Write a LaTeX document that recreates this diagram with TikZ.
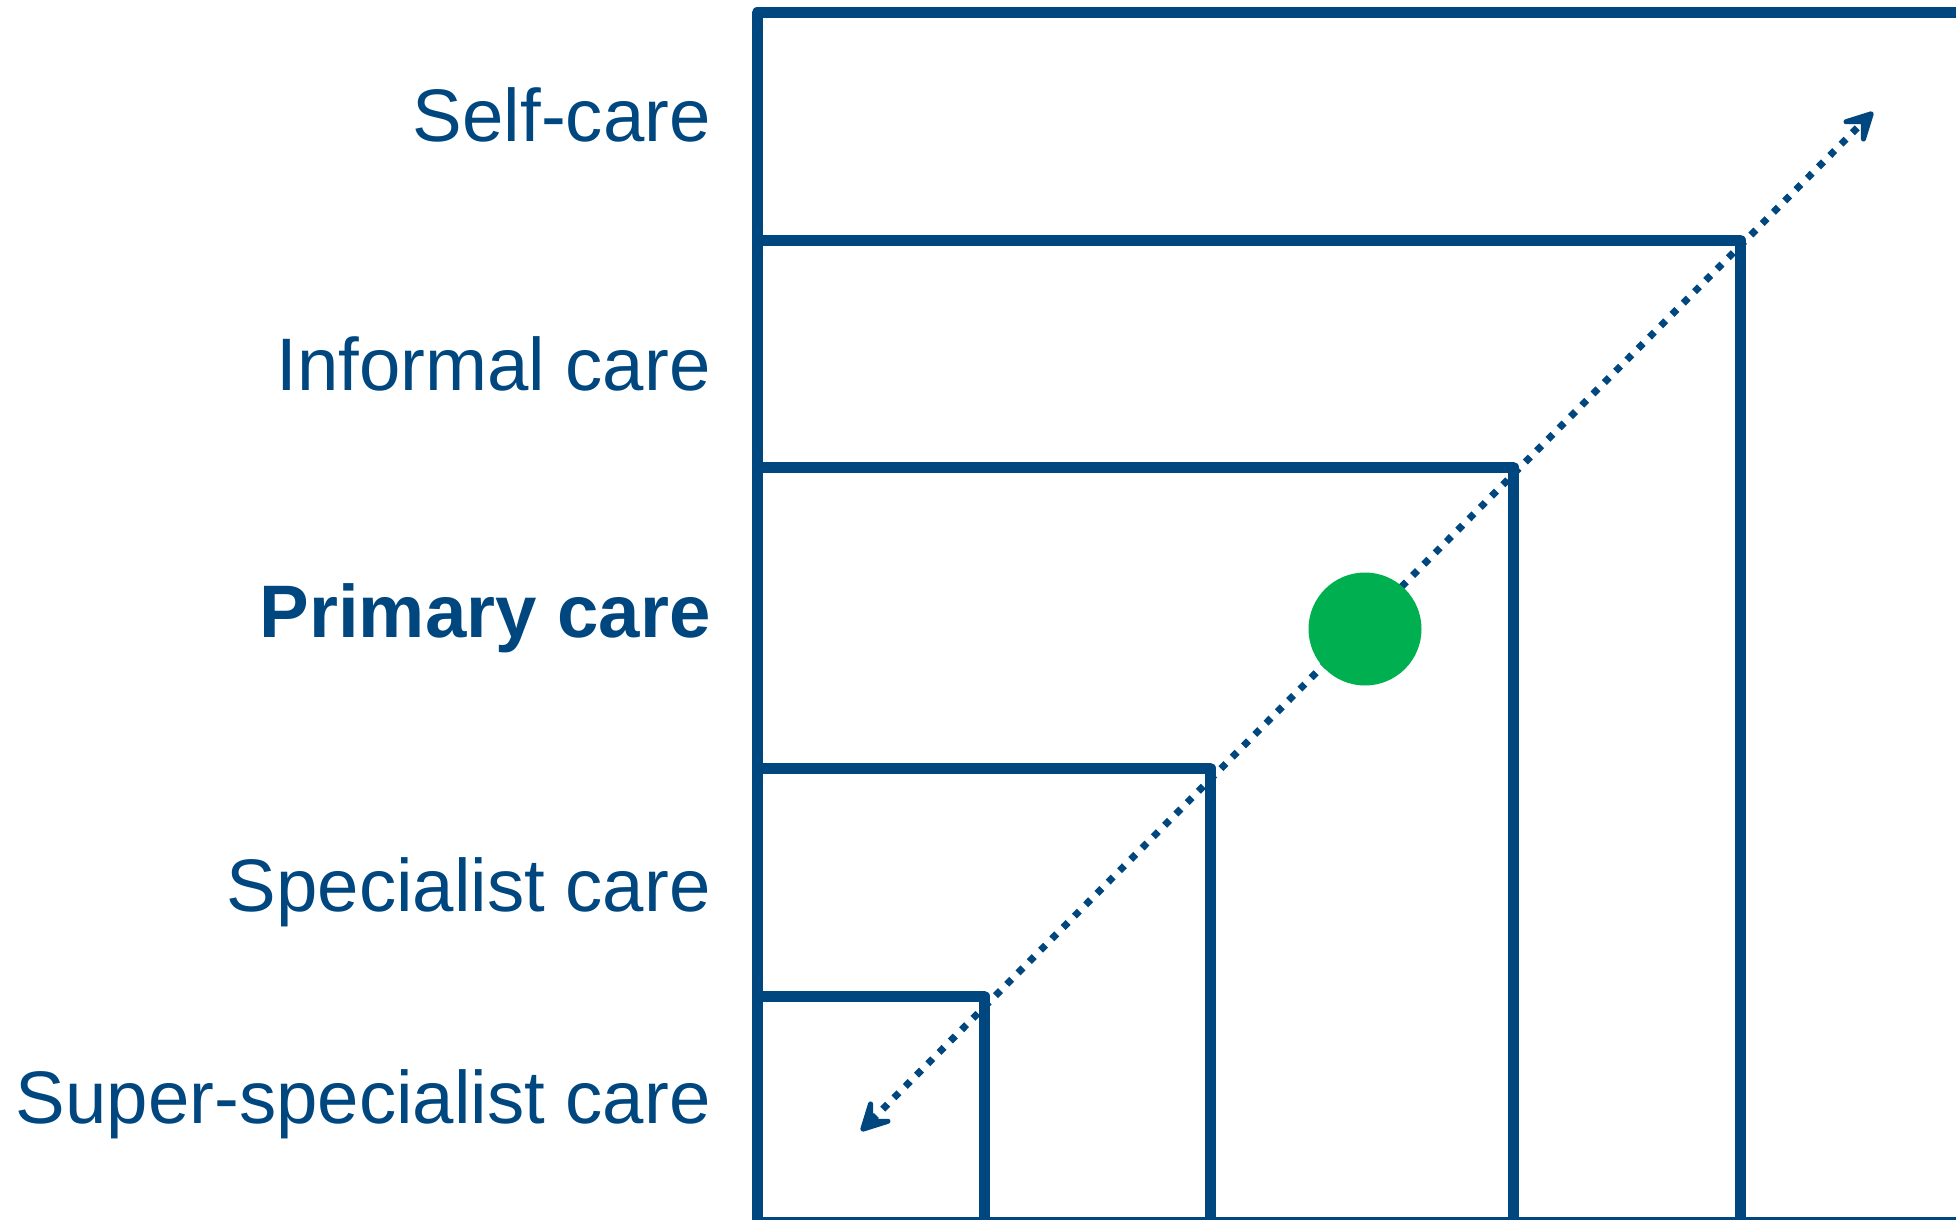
\documentclass[tikz,border=0pt]{standalone}
\usepackage{fontspec}
\setmainfont{Liberation Sans}
\usepackage{tikz}
\usetikzlibrary{arrows.meta}
\definecolor{careblue}{RGB}{0,70,127}
\definecolor{dotgreen}{RGB}{0,176,80}

\begin{document}
\begin{tikzpicture}[x=0.5pt, y=-0.5pt,
    level/.style={draw=careblue, line width=5.5pt, line join=round},
    caretext/.style={anchor=base east, inner sep=0pt, text=careblue, font=\fontsize{37.2pt}{40pt}\selectfont},
    route/.style={careblue, line width=3.5pt, dash pattern=on 3.5pt off 4.5pt,
        {Stealth[length=21pt, width=22pt, inset=11pt, round]}-{Stealth[length=21pt, width=22pt, inset=11pt, round]}}]
    \useasboundingbox (0,0) rectangle (1956,1220);
    \clip (0,0) rectangle (1956,1220);

    % nested levels of care
    \draw[level] (757,13) rectangle (1990,1222);
    \draw[level] (757,240) rectangle (1740,1222);
    \draw[level] (757,467) rectangle (1513,1222);
    \draw[level] (757,768) rectangle (1210,1222);
    \draw[level] (757,996) rectangle (984,1222);

    \node[caretext] (self) at (711,141) {Self-care};
    \node[caretext] (informal) at (711,390) {Informal care};
    \node[caretext, font=\fontsize{37.2pt}{40pt}\selectfont\bfseries] (primary) at (711,637) {Primary care};
    \node[caretext] (specialist) at (711,911) {Specialist care};
    \node[caretext] (superspec) at (711,1123) {Super-specialist care};

    \coordinate (low) at (861,1131);
    \coordinate (high) at (1873,112);
    \draw[route] (low) -- (high);

    \node[circle, fill=dotgreen, inner sep=0pt, minimum size=56.5pt] (patient) at (1365,629) {};
\end{tikzpicture}
\end{document}
